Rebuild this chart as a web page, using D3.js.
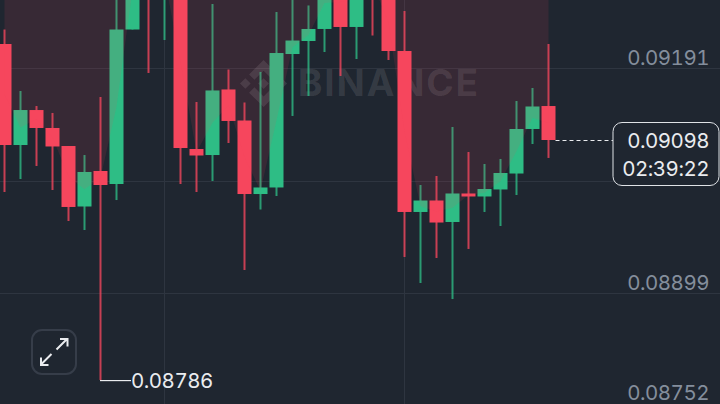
<!DOCTYPE html>
<html><head><meta charset="utf-8">
<script src="https://cdnjs.cloudflare.com/ajax/libs/d3/7.8.5/d3.min.js"></script>
<style>html,body{margin:0;padding:0;background:#1f2630}svg{display:block}text{font-feature-settings:'tnum' 1;font-variant-numeric:tabular-nums}text.n{letter-spacing:-.5px}</style>
</head><body><svg id="c" width="720" height="404"></svg>
<script>
const opens=[0.092228,0.090917,0.091371,0.091138,0.090904,0.090119,0.090580,0.090411,0.092416,0.093448,0.093059,0.093110,0.090865,0.090787,0.091638,0.091235,0.090281,0.090366,0.092098,0.092267,0.092423,0.093097,0.092449,0.093188,0.092864,0.092137,0.090048,0.090197,0.089918,0.090288,0.090249,0.090340,0.090547,0.091125,0.091423];
const closes=[0.090917,0.091371,0.091138,0.090898,0.090113,0.090567,0.090398,0.092416,0.093448,0.093059,0.093110,0.090878,0.090781,0.091625,0.091229,0.090281,0.090366,0.092111,0.092273,0.092423,0.093097,0.092449,0.093188,0.092864,0.092137,0.090048,0.090197,0.089911,0.090288,0.090249,0.090346,0.090554,0.091125,0.091417,0.090982];
const highs=[0.092416,0.091618,0.091423,0.091333,0.090904,0.090787,0.091540,0.093188,0.093578,0.093578,0.093578,0.093188,0.091475,0.092747,0.091897,0.091469,0.091865,0.092643,0.092994,0.092728,0.093188,0.093188,0.093318,0.093318,0.092994,0.092656,0.090398,0.090515,0.091151,0.090826,0.090671,0.090736,0.091488,0.091657,0.092228];
const lows=[0.090307,0.090476,0.090645,0.090333,0.089931,0.089814,0.087867,0.090203,0.092416,0.091852,0.092280,0.090411,0.090307,0.090450,0.090943,0.089295,0.090080,0.090255,0.091294,0.091553,0.092124,0.091813,0.092033,0.092338,0.092020,0.089464,0.089126,0.089451,0.088918,0.089568,0.090048,0.089866,0.090268,0.090930,0.090749];
const gridTicks=[0.09191,0.09045,0.08899,0.08752];
const axisTicks=[0.09191,0.08899,0.08752];
const axisLabels=["0.09191","0.08899","0.08752"];
const lastPrice=0.09098, lastLabel="0.09098", countdown="02:39:22";
const lowPrice=0.08786, lowLabel="0.08786";

const W=720,H=404,FONT="Inter, 'Noto Sans', sans-serif",FS=20.5;
const RED="#f6465d",GREEN="#2ebd85",GRID="#2e3540",BG="#1f2630";
const idx=d3.range(opens.length);
const x=d3.scaleBand().domain(idx).range([-3.5,-3.5+16*idx.length]);
const cx=i=>x(i)+x.bandwidth()/2;
const y=d3.scaleLinear().domain([0.09191,0.08899]).range([68.5,293.5]);
const svg=d3.select("#c");
svg.append("rect").attr("width",W).attr("height",H).attr("fill",BG);

svg.append("g").selectAll("line").data(gridTicks).join("line")
 .attr("x1",0).attr("x2",W).attr("y1",d=>Math.floor(y(d))+.5).attr("y2",d=>Math.floor(y(d))+.5)
 .attr("stroke",GRID).attr("stroke-width",1);
svg.append("g").selectAll("line").data([10,25]).join("line")
 .attr("x1",d=>Math.floor(cx(d))+.5).attr("x2",d=>Math.floor(cx(d))+.5).attr("y1",0).attr("y2",H)
 .attr("stroke",GRID).attr("stroke-width",1);

// watermark
const wm=svg.append("g").attr("fill","#fff").attr("fill-opacity",.105);
wm.append("path").attr("transform","translate(240,60) scale(0.372)")
 .attr("d","M38.73 53.2l24.59-24.58 24.6 24.6 14.3-14.31L63.32 0 24.43 38.9z M0 63.31l14.3-14.31 14.31 14.31-14.31 14.3z M38.73 73.41l24.59 24.59 24.6-24.6 14.31 14.29-38.9 38.91-38.91-38.88z M98 63.31l14.3-14.31 14.31 14.31-14.3 14.3z M77.83 63.3L63.32 48.78 52.59 59.51l-1.24 1.23-2.54 2.54 14.51 14.5 14.51-14.47z");
wm.append("text").attr("x",298).attr("y",96).attr("font-family",FONT).attr("font-weight",700)
 .attr("font-size",37).attr("textLength",180).text("BINANCE");

// candles
const g=svg.append("g");
g.selectAll("line").data(idx).join("line")
 .attr("x1",cx).attr("x2",cx).attr("y1",i=>y(highs[i])).attr("y2",i=>y(lows[i]))
 .attr("stroke",i=>closes[i]>=opens[i]?GREEN:RED).attr("stroke-width",2).attr("stroke-opacity",.78);
g.selectAll("rect").data(idx).join("rect")
 .attr("x",i=>cx(i)-7).attr("width",14)
 .attr("y",i=>y(Math.max(opens[i],closes[i])))
 .attr("height",i=>Math.max(1.5,Math.abs(y(opens[i])-y(closes[i]))))
 .attr("fill",i=>closes[i]>=opens[i]?GREEN:RED);

// band above body midpoints
svg.append("path").datum(idx).attr("fill",RED).attr("fill-opacity",.115)
 .attr("d",d3.area().x(cx).y0(0).y1(i=>y((opens[i]+closes[i])/2)));

// axis labels
svg.append("g").selectAll("text").data(axisTicks).join("text").attr("class","n")
 .attr("x",709).attr("y",d=>Math.min(y(d)-3.5,399.5)).attr("text-anchor","end")
 .attr("font-family",FONT).attr("font-size",FS).attr("fill","#848e9c")
 .text((d,i)=>axisLabels[i]);

// last price
const ly=y(lastPrice);
svg.append("line").attr("x1",cx(34)+7).attr("x2",613).attr("y1",Math.round(ly)+.5).attr("y2",Math.round(ly)+.5)
 .attr("stroke","#eaecef").attr("stroke-width",1).attr("stroke-dasharray","4 3");
svg.append("rect").attr("x",613).attr("y",122.5).attr("width",106).attr("height",63).attr("rx",9)
 .attr("fill",BG).attr("stroke","#dfe2e6").attr("stroke-width",1);
svg.append("text").attr("class","n").attr("x",709).attr("y",147.5).attr("text-anchor","end").attr("font-family",FONT)
 .attr("font-size",FS).attr("fill","#eaecef").text(lastLabel);
svg.append("text").attr("class","n").attr("x",709).attr("y",176).attr("text-anchor","end").attr("font-family",FONT)
 .attr("font-size",FS).attr("fill","#eaecef").text(countdown);

// low marker
const lowY=y(lowPrice);
svg.append("line").attr("x1",cx(6)-.5).attr("x2",131).attr("y1",lowY).attr("y2",lowY)
 .attr("stroke","#eaecef").attr("stroke-width",1.2);
svg.append("text").attr("class","n").attr("x",131).attr("y",lowY+7).attr("font-family",FONT).attr("font-size",FS)
 .attr("fill","#eaecef").text(lowLabel);

// expand button
const b=svg.append("g");
b.append("rect").attr("x",32).attr("y",330).attr("width",44).attr("height",44).attr("rx",10)
 .attr("fill","none").attr("stroke","#363d49").attr("stroke-width",2);
b.append("path").attr("fill","none").attr("stroke","#eaecef").attr("stroke-width",2)
 .attr("d","M56.5 349.5L67 339M60 339H67.5V346.5M51.5 354L41 364.5M48.5 365H41V357.5");
</script></body></html>
